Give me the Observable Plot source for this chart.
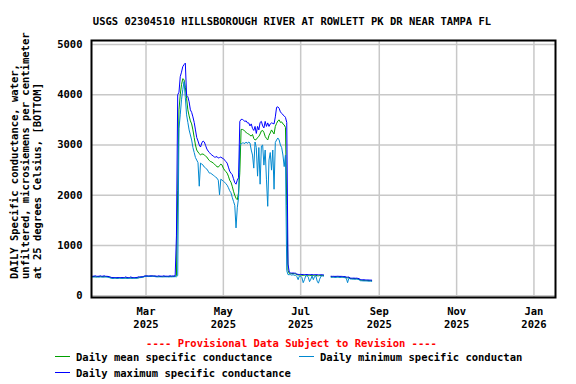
<!DOCTYPE html>
<html>
<head>
<meta charset="utf-8">
<script src="https://cdn.jsdelivr.net/npm/d3@7"></script>
<script src="https://cdn.jsdelivr.net/npm/@observablehq/plot@0.6"></script>
<style>
  body { margin: 0; background: #fff; }
  #chart { width: 576px; height: 384px; overflow: hidden; }
  #chart svg text { font-family: "DejaVu Sans Mono", monospace; font-weight: bold; }
</style>
</head>
<body>
<div id="chart"></div>
<script>
// ---------------- DATA ----------------
const titleText = "USGS 02304510 HILLSBOROUGH RIVER AT ROWLETT PK DR NEAR TAMPA FL";
const yLabelLines = [
  "DAILY Specific conductance, water,",
  "unfiltered, microsiemens per centimeter",
  "at 25 degrees Celsius, [BOTTOM]"
];
const provisionalText = "---- Provisional Data Subject to Revision ----";
const seriesNames = ["Daily mean specific conductance", "Daily minimum specific conductance", "Daily maximum specific conductance"];
const seriesColors = ["#00a000", "#0088d0", "#0000ff"];

const startDate = "2025-01-17"; // first daily value
const xDomain = ["2025-01-17", "2026-01-18"];
const xTicks = ["2025-03-01", "2025-05-01", "2025-07-01", "2025-09-01", "2025-11-01", "2026-01-01"];
const yTicks = [0, 1000, 2000, 3000, 4000, 5000];

// daily mean (null = missing)
const meanValues = [
  380,380,382,380,378,381,380,382,380,379,380,381,380,378,
  370,362,
  355,354,356,355,353,355,356,354,355,355,354,356,355,353,354,356,355,355,354,356,357,360,
  368,370,372,378,
  388,389,390,388,389,390,391,389,388,
  383,382,382,383,382,381,382,383,382,382,381,383,382,384,386,390,
  400,
  2100,3700,4000,4200,4320,4300,4150,3930,3700,3580,3480,3420,3300,3150,3000,2900,2860,2830,2800,2820,
  2820,2800,2780,2760,2720,2690,2670,2660,2640,2620,2590,2570,2560,2590,2620,2600,2540,2500,2470,2440,
  2380,2300,2260,2180,2080,2000,1940,1910,2050,
  2450,3310,3310,3300,3270,3250,3230,3220,3190,3180,3210,3130,3100,3110,3150,3170,3220,3280,3290,3250,
  3170,3130,3100,3190,3240,3300,3260,3220,3370,3430,3480,3500,3450,3460,3420,3400,3350,1800,
  500,445,440,440,442,438,436,420,412,414,412,410,405,408,411,410,407,400,404,409,403,407,408,398,396,402,406,405,404,
  null,null,null,null,null,
  378,376,377,375,376,378,377,375,376,374,372,370,362,355,362,
  345,342,340,341,338,340,336,330,
  312,308,306,305,304,303,302,300,300,298
];
// daily minimum
const minValues = [
  372,372,374,372,370,373,372,374,372,371,372,373,372,370,
  362,350,
  346,345,347,346,344,346,347,345,346,346,345,347,346,344,345,347,346,346,345,347,348,352,
  360,362,365,370,
  382,383,384,382,383,384,385,383,382,
  376,375,376,377,376,375,376,377,376,376,375,377,376,377,378,380,
  378,
  400,3330,3600,3900,4100,4260,3950,3600,3450,3300,3200,3100,2950,2850,2750,2700,2650,2180,2640,2620,
  2600,2560,2540,2520,2480,2440,2440,2420,2400,2380,2360,2340,2300,2010,2320,2300,2280,2260,2230,2200,
  2150,2090,2050,1960,1880,1800,1350,1750,1950,
  3000,3020,3040,3040,3030,3060,3030,3060,3040,2900,2800,2540,3060,2950,2380,2950,2220,2980,3000,2600,
  2900,2320,1780,2700,2850,2500,2900,2120,3050,3100,3140,3100,3000,2950,2800,2570,2800,500,
  420,420,420,410,420,405,410,380,320,395,390,360,260,320,395,400,370,280,330,395,320,385,395,290,250,330,390,395,390,
  null,null,null,null,null,
  368,366,367,365,366,368,367,365,366,364,362,360,345,260,350,
  335,332,330,331,328,330,326,320,
  300,298,296,295,294,293,292,290,290,288
];
// daily maximum
const maxValues = [
  386,388,390,398,388,387,389,398,388,389,398,388,387,385,
  380,372,
  362,361,362,362,360,361,363,362,362,361,363,375,362,361,362,375,362,361,362,363,364,378,
  374,376,378,384,
  394,395,396,394,395,396,397,395,394,
  390,389,398,390,389,390,398,389,390,389,390,398,392,395,392,400,
  1190,
  4000,4050,4360,4450,4560,4600,4630,3990,3960,3860,3700,3650,3560,3450,3300,3150,3080,3000,2960,3040,
  3080,3060,2990,2920,2880,2850,2820,2800,2780,2760,2760,2770,2740,2750,2760,2740,2730,2700,2670,2640,
  2560,2480,2440,2410,2330,2250,2220,2300,2350,
  3470,3510,3510,3490,3470,3480,3440,3440,3380,3420,3330,3290,3370,3230,3370,3300,3450,3470,3380,3340,
  3470,3370,3440,3370,3420,3440,3430,3420,3560,3750,3760,3730,3660,3630,3600,3580,3550,3450,
  630,470,455,450,452,450,448,430,425,423,425,422,424,420,423,421,420,422,420,421,419,420,418,420,417,418,416,418,415,
  null,null,null,null,null,
  388,386,387,385,386,388,387,385,386,384,382,380,372,370,372,
  352,350,350,351,348,350,346,340,
  325,320,318,318,316,315,314,312,312,310
];

// ---------------- BUILD ----------------
const parse = d3.utcParse("%Y-%m-%d");
const start = parse(startDate);
const rows = meanValues.map((v, i) => ({
  date: d3.utcDay.offset(start, i),
  mean: v, min: minValues[i], max: maxValues[i]
}));
const tickDates = xTicks.map(parse);
const fmt = d => d3.utcFormat("%b")(d) + "\n" + d3.utcFormat("%Y")(d);

const chart = Plot.plot({
  width: 576,
  height: 384,
  marginLeft: 91,
  marginRight: 21,
  marginTop: 40,
  marginBottom: 87,
  style: { fontFamily: "DejaVu Sans Mono", fontSize: "10.5px", fontWeight: "bold", color: "black", background: "white" },
  x: { type: "utc", domain: xDomain.map(parse) },
  y: { domain: [-35, 5080] },
  marks: [
    Plot.gridX({ ticks: tickDates, stroke: "#c8c8c8", strokeOpacity: 1, strokeWidth: 1.5 }),
    Plot.gridY({ ticks: yTicks, stroke: "#c8c8c8", strokeOpacity: 1, strokeWidth: 1.5 }),
    Plot.axisX({ ticks: tickDates, tickFormat: fmt, tickSize: 0, tickPadding: 9, lineHeight: 1.2, label: null }),
    Plot.axisY({ ticks: yTicks, tickSize: 0, tickPadding: 9, label: null, tickFormat: d => String(d) }),
    Plot.line(rows, { x: "date", y: "mean", stroke: seriesColors[0], strokeWidth: 1 }),
    Plot.line(rows, { x: "date", y: "min", stroke: seriesColors[1], strokeWidth: 1 }),
    Plot.line(rows, { x: "date", y: "max", stroke: seriesColors[2], strokeWidth: 1 }),
    Plot.frame({ stroke: "black", strokeWidth: 2 })
  ]
});

const svg = d3.select(chart);
const fs = "10.5px";
// clip for the legend area (the reference legend is cut off at its right side)
svg.append("defs").append("clipPath").attr("id", "legend-clip")
  .append("rect").attr("x", 0).attr("y", 348).attr("width", 522.5).attr("height", 36);
// title
svg.append("text").attr("x", 292).attr("y", 25).attr("text-anchor", "middle")
  .attr("font-size", fs).attr("fill", "black").text(titleText);
// y-axis title (rotated, three lines)
const yl = [17.5, 29, 40.5];
yLabelLines.forEach((t, i) => {
  svg.append("text").attr("transform", `translate(${yl[i]},279) rotate(-90)`)
    .attr("text-anchor", "start").attr("font-size", fs).attr("fill", "black").text(t);
});
// provisional note
svg.append("text").attr("x", 291.5).attr("y", 346.5).attr("text-anchor", "middle")
  .attr("font-size", fs).attr("fill", "#ff0000").text(provisionalText);
// legend
const legend = svg.append("g").attr("clip-path", "url(#legend-clip)");
const legendPos = [[55, 356], [299, 356], [55, 372]];
seriesNames.forEach((name, i) => {
  const [lx, ly] = legendPos[i];
  legend.append("line").attr("x1", lx).attr("x2", lx + 15).attr("y1", ly + 0.5).attr("y2", ly + 0.5)
    .attr("stroke", seriesColors[i]).attr("stroke-width", 1);
  legend.append("text").attr("x", lx + 21).attr("y", ly + 4.5).attr("text-anchor", "start")
    .attr("font-size", fs).attr("fill", "black").text(name);
});

document.getElementById("chart").appendChild(chart);
</script>
</body>
</html>
